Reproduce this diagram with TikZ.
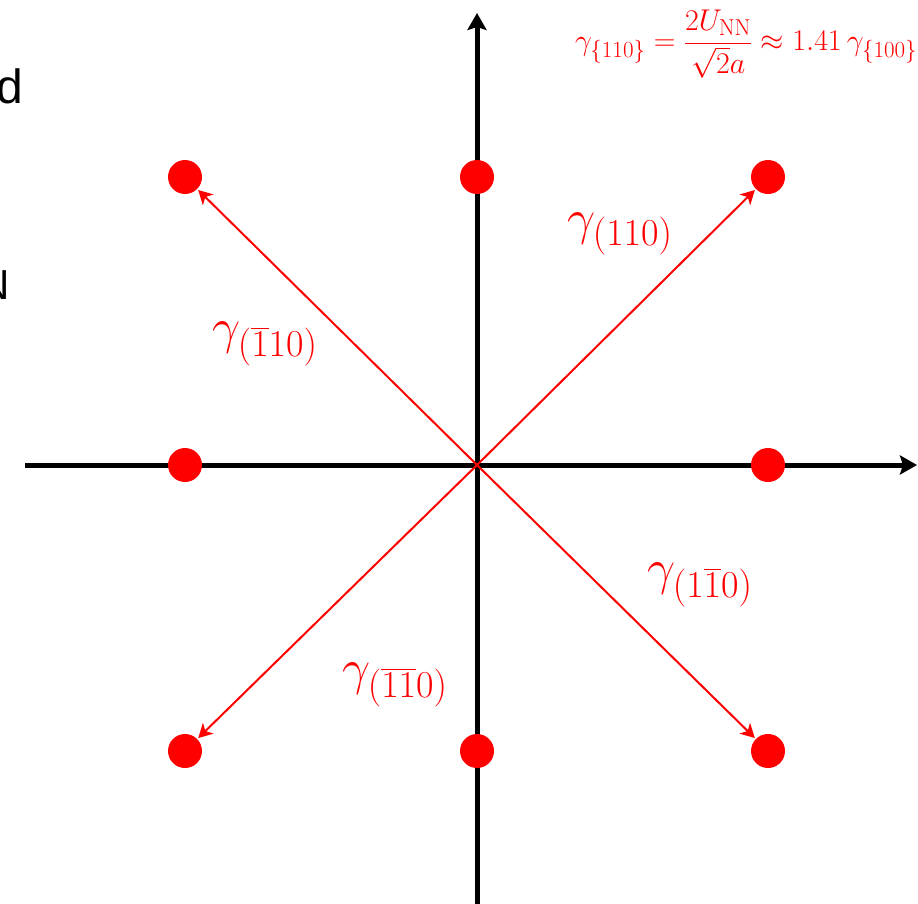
\documentclass[tikz,border=0pt]{standalone}
\usepackage{fix-cm}
\usepackage{amsmath}
\usepackage{fontspec}
\usepackage{tikz}
\usetikzlibrary{positioning,arrows.meta}
\newfontfamily\slidefont{Liberation Sans}
\definecolor{SiteRed}{HTML}{FF0000}
\DeclareMathSizes{50}{50}{38}{28}
\DeclareMathSizes{30}{30}{23}{17}

\begin{document}
\begin{tikzpicture}[x=1pt,y=-1pt,>={Stealth[length=14pt,width=15pt,inset=4pt]}]
  \tikzstyle{site}=[circle,fill=SiteRed,minimum size=34pt,inner sep=0pt,outer sep=1.5pt]
  \tikzstyle{axis}=[line width=5pt,-{Stealth[length=17pt,width=19pt,inset=3pt]}]
  \tikzstyle{bond}=[->,draw=SiteRed,line width=2pt]
  \tikzstyle{tag}=[text=SiteRed,inner sep=0pt,
    font=\fontsize{50}{58}\selectfont]
  \useasboundingbox (0,0) rectangle (918,904);
  % axes
  \coordinate (o) at (477,465);
  \coordinate (xl) at (25,465);
  \coordinate (xr) at (917,465);
  \coordinate (yt) at (477,13);
  \coordinate (yb) at (477,910);
  \draw[axis] (xl)--(xr);
  \draw[axis] (yb)--(yt);
  % lattice sites
  \node[site] (nw) at (185,177) {};
  \node[site] (n) at (477,177) {};
  \node[site] (ne) at (768,177) {};
  \node[site] (w) at (185,465) {};
  \node[site] (e) at (768,465) {};
  \node[site] (sw) at (185,751) {};
  \node[site] (s) at (477,751) {};
  \node[site] (se) at (768,751) {};
  % bonds
  \draw[bond] (o)--(ne);
  \draw[bond] (o)--(nw);
  \draw[bond] (o)--(se);
  \draw[bond] (o)--(sw);
  % labels
  \node[tag] (g1) at (620,234) {$\gamma_{(110)}$};
  \node[tag] (g2) at (265,344) {$\gamma_{(\overline{1}10)}$};
  \node[tag] (g3) at (700,585) {$\gamma_{(1\overline{1}0)}$};
  \node[tag] (g4) at (395,685) {$\gamma_{(\overline{1}\overline{1}0)}$};
  \node[text=SiteRed,inner sep=0pt,anchor=west,font=\fontsize{30}{34}\selectfont]
    (rel) at (575,44) {$\displaystyle\gamma_{\{110\}}=\frac{2U_{\mathrm{NN}}}{\sqrt{2}a}\approx 1.41\,\gamma_{\{100\}}$};
  % cut-off slide text
  \node[inner sep=0pt,anchor=base east,font=\slidefont\fontsize{48}{56}\selectfont]
    (cut1) at (23,104) {d};
  \node[inner sep=0pt,anchor=base east,font=\slidefont\fontsize{42}{50}\selectfont]
    (cut2) at (10,299) {N};
\end{tikzpicture}
\end{document}
